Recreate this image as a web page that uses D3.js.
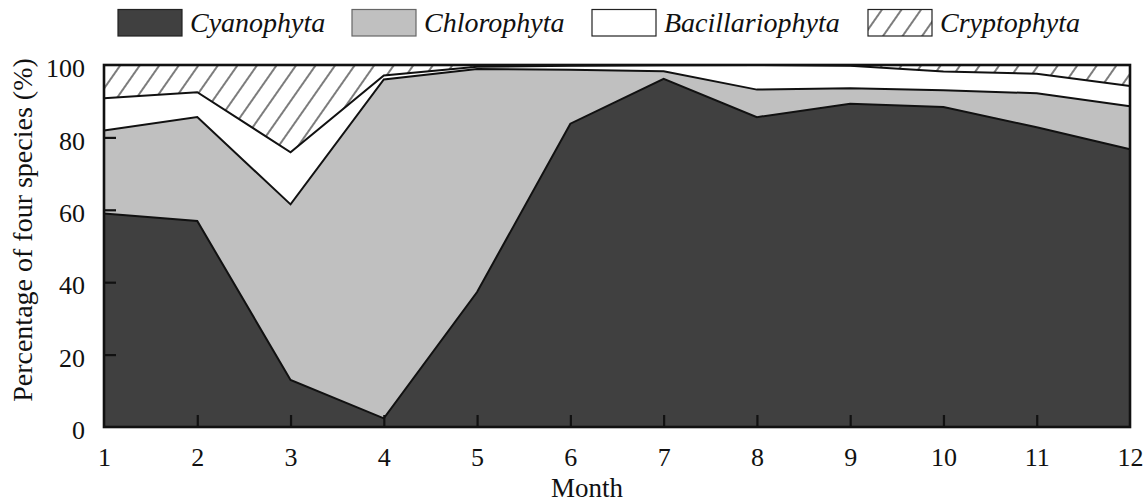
<!DOCTYPE html>
<html>
<head>
<meta charset="utf-8">
<script src="https://cdn.jsdelivr.net/npm/d3@7"></script>
<style>
  html, body { margin: 0; padding: 0; background: #fff; }
  svg { display: block; }
  text { font-family: "Liberation Serif", "Times New Roman", serif; fill: #111; }
</style>
</head>
<body>
<svg id="chart" width="1147" height="502"></svg>
<script>
// Monthly share (%) of the four phytoplankton phyla
const months = [1, 2, 3, 4, 5, 6, 7, 8, 9, 10, 11, 12];
const cyanophyta      = [59.0, 56.9, 13.0, 2.4, 37.3, 83.8, 96.2, 85.6, 89.3, 88.4, 82.8, 76.7];
const chlorophyta     = [22.9, 28.7, 48.5, 93.6, 61.6, 14.9, 2.1, 7.6, 4.3, 4.6, 9.4, 11.9];
const bacillariophyta = [8.9, 6.9, 14.4, 1.1, 0.6, 1.1, 1.6, 6.8, 6.2, 5.2, 5.4, 5.6];
const cryptophyta     = [9.2, 7.5, 24.1, 2.9, 0.5, 0.2, 0.1, 0.0, 0.2, 1.8, 2.4, 5.8];
const yTicks = [0, 20, 40, 60, 80, 100];
const seriesNames = ["Cyanophyta", "Chlorophyta", "Bacillariophyta", "Cryptophyta"];

const svg = d3.select("#chart");
const margin = { left: 104, right: 17, top: 65, bottom: 75 };
const W = 1147, H = 502;

const x = d3.scaleLinear().domain([1, 12]).range([margin.left, W - margin.right]);
const y = d3.scaleLinear().domain([0, 100]).range([H - margin.bottom, margin.top]);

// hatch pattern for Cryptophyta
const defs = svg.append("defs");
const pat = defs.append("pattern")
  .attr("id", "hatch")
  .attr("patternUnits", "userSpaceOnUse")
  .attr("width", 16).attr("height", 16)
  .attr("patternTransform", "rotate(35)");
pat.append("rect").attr("width", 16).attr("height", 16).attr("fill", "#fff");
pat.append("line")
  .attr("x1", 8).attr("y1", -2).attr("x2", 8).attr("y2", 18)
  .attr("stroke", "#111").attr("stroke-width", 1.1);

const fills = {
  Cyanophyta: "#404040",
  Chlorophyta: "#c0c0c0",
  Bacillariophyta: "#ffffff",
  Cryptophyta: "url(#hatch)"
};

const rows = months.map((m, i) => ({
  month: m,
  Cyanophyta: cyanophyta[i],
  Chlorophyta: chlorophyta[i],
  Bacillariophyta: bacillariophyta[i],
  Cryptophyta: cryptophyta[i]
}));

const stack = d3.stack().keys(seriesNames);
const layers = stack(rows);

const area = d3.area()
  .x(d => x(d.data.month))
  .y0(d => y(d[0]))
  .y1(d => y(Math.min(100, d[1])));

const topLine = d3.line()
  .x(d => x(d.data.month))
  .y(d => y(Math.min(100, d[1])));

const plot = svg.append("g");
plot.selectAll("path.layer")
  .data(layers)
  .join("path")
  .attr("class", "layer")
  .attr("d", area)
  .attr("fill", d => fills[d.key])
  .attr("stroke", "none");

// boundary lines between layers
plot.selectAll("path.edge")
  .data(layers.slice(0, 3))
  .join("path")
  .attr("class", "edge")
  .attr("d", topLine)
  .attr("fill", "none")
  .attr("stroke", "#111")
  .attr("stroke-width", 2)
  .attr("stroke-linejoin", "miter");

// axes with inward ticks
const xAxis = d3.axisBottom(x)
  .tickValues(months)
  .tickSize(-12)
  .tickPadding(21)
  .tickFormat(d3.format("d"));
const gx = svg.append("g")
  .attr("transform", `translate(0,${y(0)})`)
  .call(xAxis);
gx.select(".domain").remove();
gx.selectAll(".tick line").attr("stroke", "#111").attr("stroke-width", 2.2)
  .filter(d => d === 1 || d === 12).remove();
gx.selectAll(".tick text")
  .attr("font-size", 26)
  .attr("font-family", "Liberation Serif, serif")
  .attr("fill", "#111");

const yAxis = d3.axisLeft(y)
  .tickValues(yTicks)
  .tickSize(-12)
  .tickPadding(19)
  .tickFormat(d3.format("d"));
const gy = svg.append("g")
  .attr("transform", `translate(${x(1)},0)`)
  .call(yAxis);
gy.select(".domain").remove();
gy.selectAll(".tick line").attr("stroke", "#111").attr("stroke-width", 2.2)
  .filter(d => d === 0 || d === 100).remove();
gy.selectAll(".tick text")
  .attr("font-size", 26)
  .attr("font-family", "Liberation Serif, serif")
  .attr("fill", "#111")
  .attr("dy", "0.45em");

// plot frame
svg.append("rect")
  .attr("x", x(1)).attr("y", y(100))
  .attr("width", x(12) - x(1)).attr("height", y(0) - y(100))
  .attr("fill", "none")
  .attr("stroke", "#111")
  .attr("stroke-width", 2.6);

// axis titles
svg.append("text")
  .attr("x", 587).attr("y", 497)
  .attr("text-anchor", "middle")
  .attr("font-size", 27)
  .text("Month");

svg.append("text")
  .attr("transform", "translate(32,230) rotate(-90)")
  .attr("text-anchor", "middle")
  .attr("font-size", 28)
  .text("Percentage of four species (%)");

// legend
const legendX = [118, 352, 592, 868];
const legend = svg.append("g");
seriesNames.forEach((name, i) => {
  legend.append("rect")
    .attr("x", legendX[i]).attr("y", 9.5)
    .attr("width", 64).attr("height", 26.5)
    .attr("fill", fills[name])
    .attr("stroke", i === 1 ? "#666" : "#222")
    .attr("stroke-width", 1.2);
  legend.append("text")
    .attr("x", legendX[i] + 72).attr("y", 32)
    .attr("font-size", 28)
    .attr("font-style", "italic")
    .text(name);
});
</script>
</body>
</html>
